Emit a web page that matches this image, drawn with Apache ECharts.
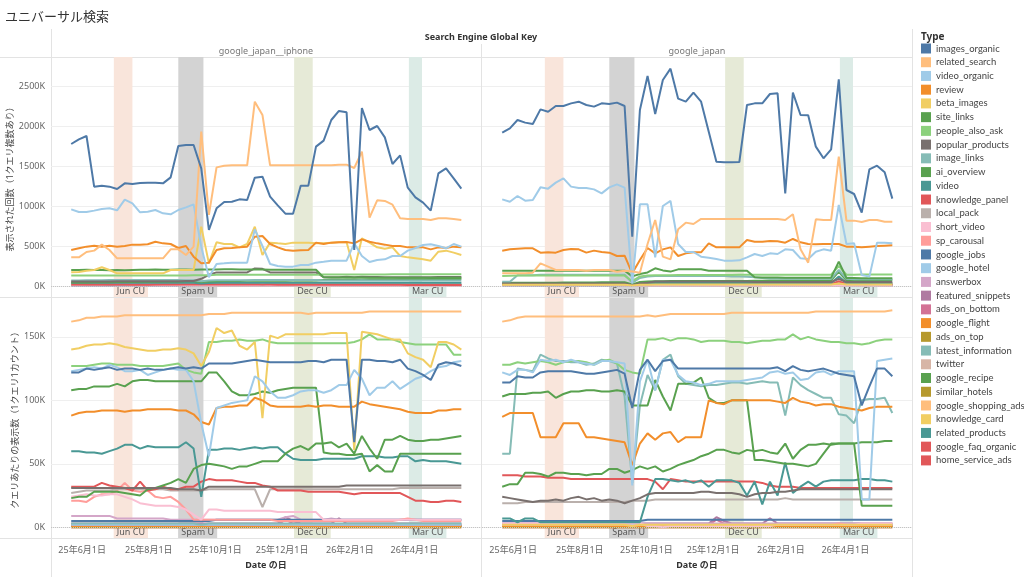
<!DOCTYPE html>
<html>
<head>
<meta charset="utf-8">
<title>ユニバーサル検索</title>
<script src="https://cdn.jsdelivr.net/npm/echarts@6/dist/echarts.min.js"></script>
<style>
html, body { margin: 0; padding: 0; background: #fff; }
#chart { width: 1024px; height: 577px; }
</style>
</head>
<body>
<div id="chart"></div>
<script>
// 週次の日付（データ点）
var dates = [
  '2025-05-22','2025-05-29','2025-06-05','2025-06-12','2025-06-19','2025-06-26','2025-07-03','2025-07-10','2025-07-17','2025-07-24',
  '2025-07-31','2025-08-07','2025-08-14','2025-08-21','2025-08-28','2025-09-04','2025-09-11','2025-09-18','2025-09-25','2025-10-02',
  '2025-10-09','2025-10-16','2025-10-23','2025-10-30','2025-11-06','2025-11-13','2025-11-20','2025-11-27','2025-12-04','2025-12-11',
  '2025-12-18','2025-12-25','2026-01-01','2026-01-08','2026-01-15','2026-01-22','2026-01-29','2026-02-05','2026-02-12','2026-02-19',
  '2026-02-26','2026-03-05','2026-03-12','2026-03-19','2026-03-26','2026-04-02','2026-04-09','2026-04-16','2026-04-23','2026-04-30',
  '2026-05-07','2026-05-14'
];

var types = ['images_organic','related_search','video_organic','review','beta_images','site_links','people_also_ask',
  'popular_products','image_links','ai_overview','video','knowledge_panel','local_pack','short_video','sp_carousal',
  'google_jobs','google_hotel','answerbox','featured_snippets','ads_on_bottom','google_flight','ads_on_top',
  'latest_information','twitter','google_recipe','similar_hotels','google_shopping_ads','knowledge_card',
  'related_products','google_faq_organic','home_service_ads'];
var typeColors = ['#4e79a7','#ffbe7d','#a0cbe8','#f28e2b','#f1ce63','#59a14f','#8cd17d',
  '#79706e','#86bcb6','#59a14f','#499894','#e15759','#bab0ac','#fabfd2','#ff9d9a',
  '#4e79a7','#a0cbe8','#d4a6c8','#b07aa1','#d37295','#f28e2b','#b6992d',
  '#86bcb6','#d7b5a6','#59a14f','#b6992d','#ffbe7d','#f1ce63',
  '#499894','#e15759','#e15759'];

// 軸ラベル
var tickDates = ['2025-06-01','2025-08-01','2025-10-01','2025-12-01','2026-02-01','2026-04-01'];
var tickLabels = ['25年6月1日','25年8月1日','25年10月1日','25年12月1日','26年2月1日','26年4月1日'];
var countTicks = [0, 500, 1000, 1500, 2000, 2500];
var perQueryTicks = [0, 50, 100, 150];

// アップデート期間
var bandNames = ['Jun CU','Spam U','Dec CU','Mar CU'];
var bandStart = ['2025-06-30','2025-08-28','2025-12-12','2026-03-27'];
var bandEnd = ['2025-07-17','2025-09-20','2025-12-29','2026-04-08'];
var bandColors = ['#f9e5db','#d3d3d3','#e6ead7','#dcebe6'];

// 表示された回数 (K) google_japan__iphone
var iphoneCount = {
  images_organic: [1775,1833,1875,1242,1254,1242,1212,1283,1275,1288, 1292,1292,1283,1358,1750,1763,1763,1471,700,971, 1050,1054,1083,1075,1354,1367,1117,1008,904,904, 1254,1254,1742,1817,2075,2188,2171,450,2225,1950, 2000,1858,1525,1633,1229,1108,1042,942,1408,1471, 1346,1217],
  related_search: [358,358,425,442,517,450,346,346,346,346, 346,346,346,458,458,388,492,1929,888,1483, 1504,1508,1508,1508,2304,2138,1508,1508,1508,1508, 1508,1508,1508,1508,1508,1517,1517,1475,1679,854, 1071,1063,1017,846,838,838,838,825,846,846, 838,825],
  video_organic: [958,925,925,942,963,971,946,1079,1033,921, 929,950,908,896,950,983,1021,492,108,275, 283,292,292,292,708,500,275,250,242,242, 263,263,292,304,317,317,317,533,375,300, 325,333,375,375,442,475,513,521,500,471, 525,492],
  review: [450,471,492,504,492,504,492,500,517,517, 521,554,533,525,475,500,367,283,292,450, 471,475,483,492,617,625,525,483,450,442, 446,450,542,525,542,546,550,533,583,554, 533,517,500,500,483,483,483,458,483,475, 492,483],
  beta_images: [171,175,190,200,235,200,158,158,158,158, 158,158,158,200,200,200,200,742,283,546, 525,525,483,525,742,388,542,533,525,542, 542,542,533,533,542,546,546,200,596,542, 483,467,483,375,358,346,333,317,429,442, 417,388],
  site_links: [200,200,202,200,200,198,200,198,200,202, 202,205,203,202,205,205,203,205,205,205, 208,208,205,205,205,205,203,203,203,203, 203,203,203,108,106,105,105,105,106,104, 104,104,104,103,103,103,104,104,104,103, 103,103],
  people_also_ask: [130,130,130,130,130,130,130,132,132,132, 132,132,132,132,132,132,135,135,135,140, 140,140,140,140,140,140,140,140,140,140, 140,140,140,145,145,145,145,145,145,145, 145,145,148,148,148,148,148,148,148,148, 148,148],
  popular_products: [55,55,55,55,55,55,58,58,58,58, 58,58,60,60,60,62,62,90,140,170, 170,170,170,170,220,215,170,170,170,170, 170,170,170,110,110,110,115,110,115,112, 112,110,110,110,108,108,110,110,112,112, 112,112],
  image_links: [70,70,72,72,72,75,75,75,75,75, 75,75,75,75,75,72,72,60,70,72, 72,72,72,72,75,75,75,75,75,75, 75,75,75,70,70,70,70,68,72,70, 70,70,70,68,68,68,70,70,70,70, 70,70],
  ai_overview: [45,45,45,48,48,48,50,50,50,52, 52,52,55,55,55,58,60,50,55,60, 62,62,62,65,65,65,65,65,65,68, 70,70,70,75,78,78,80,80,82,80, 80,82,82,84,84,85,85,86,86,88, 88,88],
  video: [40,40,40,40,40,40,42,42,42,42, 42,42,42,42,42,42,40,30,38,40, 40,40,40,40,42,42,42,42,42,42, 42,42,40,40,40,40,40,40,40,40, 40,40,40,40,40,40,40,40,40,40, 40,40],
  knowledge_panel: [18,18,18,18,19,18,18,18,17,19, 17,18,18,18,18,18,18,19,20,20, 20,20,19,19,19,18,18,17,17,17, 17,16,16,16,16,16,16,15,16,16, 16,16,16,16,14,12,12,12,12,12, 12,12],
  local_pack: [28,28,29,29,29,29,30,30,30,30, 30,30,30,29,29,29,29,29,30,30, 30,30,30,30,30,18,30,30,30,30, 30,30,30,30,30,30,30,30,30,30, 30,30,30,31,31,31,31,31,31,31, 31,31]
};

// 表示された回数 (K) google_japan
var desktopCount = {
  images_organic: [1917,1971,2075,2042,2025,2208,2179,2250,2250,2283, 2304,2263,2242,2283,2275,2292,2250,617,2200,2625, 2150,2575,2717,2342,2304,2417,2304,1929,1554,1546, 1546,1550,2263,2283,2283,2400,2408,1158,2417,2138, 2133,1742,1596,1708,2583,1200,1150,917,1458,1504, 1421,1092],
  video_organic: [1083,1054,1125,1067,1075,1233,1217,1292,1346,1242, 1225,1225,1208,1158,1233,1271,1229,33,1021,1021, 358,1000,1063,525,425,425,367,354,338,317, 317,321,358,400,375,408,400,458,450,346, 338,429,458,442,1013,525,533,138,117,542, 542,533],
  related_search: [158,158,158,158,167,283,242,200,200,200, 200,192,200,200,200,179,192,180,167,525, 825,367,333,708,792,775,838,838,838,838, 838,838,838,838,838,838,838,825,896,458, 292,833,825,825,1617,817,817,800,825,825, 804,804],
  review: [442,458,467,471,471,417,421,417,450,463, 458,417,442,425,417,375,379,158,325,475, 408,458,483,375,408,421,421,533,483,483, 483,483,575,554,554,563,558,542,588,546, 525,521,525,525,525,492,492,483,492,500, 504,508],
  site_links: [192,192,192,192,192,192,192,192,192,192, 192,192,192,192,192,192,192,120,150,170, 221,195,180,208,208,208,208,192,192,192, 192,192,192,108,106,105,105,104,104,104, 104,104,104,104,304,100,100,98,98,98, 98,98],
  people_also_ask: [125,128,130,130,130,130,132,132,132,132, 132,132,132,132,132,132,130,60,120,130, 135,135,135,138,138,138,138,138,138,138, 138,140,140,140,140,140,140,140,142,142, 142,142,142,142,250,142,142,145,145,145, 145,145],
  image_links: [54,54,135,135,135,140,140,140,140,140, 140,140,140,140,140,140,140,40,100,120, 125,125,125,125,125,125,125,125,125,125, 120,120,115,110,100,95,95,90,90,90, 90,90,90,90,200,90,85,85,85,85, 85,85],
  popular_products: [30,30,30,30,30,30,30,30,30,30, 30,30,30,30,30,30,30,10,30,40, 55,55,55,55,55,55,55,55,55,55, 55,55,55,50,50,50,50,50,50,50, 50,50,50,50,90,50,50,50,50,50, 50,50],
  ai_overview: [40,40,40,42,42,42,42,42,44,44, 44,44,44,46,46,46,46,20,50,55, 60,60,62,62,62,62,64,64,64,64, 64,64,64,66,66,68,68,68,70,70, 70,70,70,72,180,72,72,72,74,74, 74,74],
  video: [35,35,35,35,35,35,35,35,35,35, 35,35,35,35,35,35,35,15,30,35, 38,38,38,38,38,38,38,38,38,38, 38,38,38,36,36,36,36,36,36,36, 36,36,36,36,120,36,36,36,36,36, 36,36],
  knowledge_panel: [25,25,25,25,25,25,25,25,25,25, 25,25,25,25,25,25,25,12,25,25, 25,25,25,25,25,25,25,25,25,25, 25,25,25,24,24,24,24,24,24,24, 24,24,24,24,60,24,24,24,24,24, 24,24],
  local_pack: [20,20,20,20,20,20,20,20,20,20, 20,20,20,20,20,20,20,8,20,20, 22,22,22,22,22,22,22,22,22,22, 22,22,22,22,22,22,22,22,22,22, 22,22,22,22,40,22,22,22,22,22, 22,22],
  beta_images: [15,15,15,15,15,15,15,15,15,15, 15,15,15,15,15,15,15,5,15,15, 18,18,18,18,18,18,18,18,18,18, 18,18,18,18,18,18,18,18,18,18, 18,18,18,18,30,18,18,18,18,18, 18,18]
};

// 表示された回数 (K) 小さい系列
var smallCount = {
  short_video: [20,20,21,21,22,22,22,21,20,19, 18,18,17,17,17,14,10,6,9,9, 9,9,9,9,9,9,9,8,8,8, 8,8,8,5,5,5,5,5,5,5, 5,5,5,5,5,5,5,5,5,5, 5,5],
  sp_carousal: [15,15,15,16,17,20,18,18,17,16, 16,15,15,15,14,12,8,5,5,5, 5,5,5,5,5,5,5,5,5,5, 5,5,5,5,5,5,5,5,5,5, 5,5,5,5,8,5,5,5,5,5, 5,5],
  google_jobs: [12,12,12,12,12,12,12,12,12,12, 12,12,12,12,12,12,12,6,12,14, 14,14,14,14,14,14,14,14,14,14, 14,14,14,14,14,14,14,14,14,14, 14,14,14,14,20,14,14,14,14,14, 14,14],
  google_hotel: [6,6,6,6,6,6,6,6,6,6, 6,6,6,6,6,6,6,3,6,6, 6,6,6,6,6,6,6,6,6,6, 6,6,6,6,6,6,6,6,6,6, 6,6,6,6,9,6,6,6,6,6, 6,6],
  answerbox: [10,10,10,10,10,10,9,9,9,9, 9,9,9,8,8,8,8,4,7,7, 7,7,7,7,7,7,7,7,7,7, 7,7,7,7,7,7,7,7,7,7, 7,7,7,7,9,7,7,7,7,7, 7,7],
  featured_snippets: [5,5,5,5,5,5,5,5,5,5, 5,5,5,5,5,5,5,3,5,5, 5,5,5,5,5,5,5,5,9,9, 5,5,5,5,5,7,5,5,5,5, 5,5,5,5,7,5,5,5,5,5, 5,5],
  ads_on_bottom: [3,3,3,3,3,3,3,3,3,3, 3,3,3,3,3,3,3,2,3,3, 3,3,3,3,3,3,3,3,4,4, 3,3,3,3,3,3,3,3,3,3, 3,3,3,3,4,3,3,3,3,3, 3,3],
  google_flight: [2,2,2,2,2,2,2,2,2,2, 2,2,2,2,2,2,2,1,2,2, 2,2,2,2,2,2,2,2,2,2, 2,2,2,2,2,2,2,2,2,2, 2,2,2,2,3,2,2,2,2,2, 2,2],
  ads_on_top: [2,2,2,2,2,2,2,2,2,2, 2,2,2,2,2,2,2,1,2,2, 2,2,2,2,2,2,2,2,2,2, 2,2,2,2,2,2,2,2,2,2, 2,2,2,2,2,2,2,2,2,2, 2,2],
  latest_information: [4,4,4,4,4,4,4,4,4,4, 4,4,4,4,4,4,4,2,4,4, 4,4,4,4,4,4,4,4,4,4, 4,4,4,4,4,4,4,4,4,4, 4,4,4,4,6,4,4,4,4,4, 4,4],
  twitter: [1,1,1,1,1,1,1,1,1,1, 1,1,1,1,1,1,1,1,1,1, 1,1,1,1,1,1,1,1,1,1, 1,1,1,1,1,1,1,1,1,1, 1,1,1,1,1,1,1,1,1,1, 1,1],
  google_recipe: [3,3,3,3,3,3,3,3,3,3, 3,3,3,3,3,3,3,2,3,3, 3,3,3,3,3,3,3,3,3,3, 3,3,3,3,3,3,3,3,3,3, 3,3,3,3,4,3,3,3,3,3, 3,3],
  similar_hotels: [1,1,1,1,1,1,1,1,1,1, 1,1,1,1,1,1,1,1,1,1, 1,1,1,1,1,1,1,1,1,1, 1,1,1,1,1,1,1,1,1,1, 1,1,1,1,1,1,1,1,1,1, 1,1],
  google_shopping_ads: [2,2,2,2,2,2,2,2,2,2, 2,2,2,2,2,2,2,1,2,2, 2,2,2,2,2,2,2,2,2,2, 2,2,2,2,2,2,2,2,2,2, 2,2,2,2,2,2,2,2,2,2, 2,2],
  knowledge_card: [3,3,3,3,3,3,3,3,3,3, 3,3,3,3,3,3,3,2,3,3, 3,3,3,3,3,3,3,3,3,3, 3,3,3,3,3,3,3,3,3,3, 3,3,3,3,3,3,3,3,3,3, 3,3],
  related_products: [5,5,5,5,5,5,5,5,5,5, 5,5,5,5,5,5,5,3,5,5, 5,5,5,5,5,5,5,5,5,5, 5,5,5,5,5,5,5,5,5,5, 5,5,5,5,7,5,5,5,5,5, 5,5],
  google_faq_organic: [2,2,2,2,2,2,2,2,2,2, 2,2,2,2,2,2,2,1,2,2, 2,2,2,2,2,2,2,2,2,2, 2,2,2,2,2,2,2,2,2,2, 2,2,2,2,2,2,2,2,2,2, 2,2],
  home_service_ads: [8,8,8,8,8,8,8,8,8,8, 8,8,8,8,8,8,8,5,8,8, 8,8,8,8,8,8,8,8,8,8, 8,8,8,8,8,8,8,8,8,8, 8,8,8,8,10,8,8,8,8,8, 8,8]
};

// クエリあたりの表示数 (K) google_japan__iphone
var iphonePerQuery = {
  related_search: [162,163,165,165,166,166,166,167,167,167, 167,167,167,167,167,167,167,167,168,168, 168,169,169,169,169,169,169,169,169,169, 169,168,169,169,169,169,169,169,169,170, 170,170,170,170,170,170,170,170,170,170, 170,170],
  beta_images: [140,141,143,144,144,145,144,142,141,140, 139,139,140,140,141,140,137,127,138,157, 153,155,143,140,146,86,151,149,152,152, 152,152,152,152,153,153,153,61,154,153, 152,150,148,148,137,134,132,126,146,146, 144,140],
  people_also_ask: [127,127,127,128,129,129,128,128,128,127, 127,127,127,128,129,124,122,121,146,146, 147,147,148,147,147,148,146,145,145,145, 145,145,145,145,145,145,145,146,148,152, 148,148,148,146,145,144,144,144,144,144, 136,136],
  images_organic: [122,122,125,124,125,126,124,125,125,124, 125,124,124,125,126,125,126,125,129,129, 129,129,130,131,132,131,130,130,130,130, 130,131,131,130,132,132,132,67,132,132, 131,131,130,132,125,123,120,116,128,130, 129,127],
  video_organic: [123,124,125,126,125,128,126,123,123,124, 120,122,124,125,124,124,115,82,56,94, 96,98,99,100,119,115,107,102,102,104, 107,108,108,106,108,112,112,124,117,104, 110,110,115,109,113,117,119,123,126,127, 130,131],
  site_links: [108,109,109,111,111,111,113,111,115,116, 116,115,115,115,115,115,115,115,122,122, 115,107,104,104,105,107,106,108,109,110, 110,110,110,59,58,58,57,57,58,44, 49,44,44,58,58,58,58,58,58,58, 58,58],
  ai_overview: [23,24,24,28,28,28,28,27,26,25, 30,31,33,35,38,35,46,49,50,49, 48,46,48,48,50,52,52,52,58,62, 64,61,66,66,67,63,66,58,72,62, 54,69,69,72,69,68,68,69,69,70, 71,72],
  review: [88,90,91,91,92,92,92,91,92,92, 93,93,93,93,92,92,89,83,81,94, 95,95,96,96,102,100,96,95,95,95, 95,96,95,96,96,95,95,95,99,97, 96,95,94,93,91,90,90,90,92,92, 93,93],
  video: [60,60,59,59,58,60,62,65,65,62, 64,63,63,63,63,67,62,24,61,61, 62,62,61,62,63,62,63,63,58,54, 53,53,53,54,54,54,54,54,56,56, 56,55,55,56,56,52,53,52,52,52, 51,50],
  knowledge_panel: [32,32,32,32,35,33,32,31,29,36, 29,30,32,30,30,32,32,36,38,37, 37,37,36,35,35,33,32,29,29,29, 29,28,28,28,28,28,27,26,27,27, 27,27,27,27,24,21,21,20,20,21, 21,20],
  popular_products: [31,31,31,31,31,31,31,31,31,31, 31,31,31,31,30,30,30,29,32,32, 32,32,32,32,32,32,32,32,32,32, 32,32,32,32,32,32,33,33,33,33, 33,33,33,33,33,33,33,33,33,33, 33,33],
  local_pack: [27,28,29,29,29,29,30,30,30,30, 30,30,30,29,29,29,29,29,30,30, 30,30,30,30,30,16,30,30,30,30, 30,30,30,30,30,30,30,30,30,30, 30,30,30,31,31,31,31,31,31,31, 31,31],
  sp_carousal: [21,21,20,24,26,26,29,35,29,28, 29,24,23,24,20,14,6,6,6,6, 6,6,6,6,6,6,6,5,5,5, 5,5,5,5,5,5,5,5,5,5, 5,5,5,6,7,6,5,5,5,5, 5,5],
  short_video: [24,25,26,25,25,26,26,24,22,19, 18,17,17,17,16,14,10,6,14,14, 13,13,13,13,13,13,13,12,12,12, 12,12,12,6,6,6,6,6,6,6, 6,6,6,6,6,6,6,6,6,6, 6,6],
  answerbox: [9,9,9,9,9,9,7,7,7,7, 7,7,7,6,6,6,6,6,6,6, 6,6,6,6,6,6,6,6,8,9, 6,6,6,6,7,6,6,6,6,6, 6,6,6,6,6,6,6,6,6,6, 6,6]
};

// クエリあたりの表示数 (K) google_japan
var desktopPerQuery = {
  related_search: [162,163,165,166,166,166,166,166,166,166, 166,166,166,166,166,166,166,166,166,167, 166,167,168,168,168,168,168,168,168,168, 169,169,169,169,169,169,169,169,169,169, 169,170,170,170,170,170,170,170,170,170, 170,171],
  people_also_ask: [128,128,130,129,130,131,130,128,130,131, 131,130,128,131,132,129,124,122,121,148, 148,149,147,149,149,148,146,147,147,147, 146,146,145,146,147,147,148,148,152,148, 150,148,147,146,146,145,145,144,145,147, 148,148],
  images_organic: [114,114,119,118,118,122,123,123,123,123, 122,121,121,122,123,124,121,94,124,132, 123,131,132,125,125,125,125,125,125,125, 125,125,125,125,125,125,126,123,127,124, 123,124,125,123,121,120,119,96,111,125, 125,119],
  video_organic: [122,120,124,124,122,132,131,132,130,132, 130,129,128,131,131,130,129,33,115,132, 108,132,132,120,115,114,112,113,115,115, 115,115,116,117,118,122,123,121,122,116, 117,122,123,120,123,123,123,22,22,131, 132,133],
  image_links: [58,58,125,124,123,136,133,131,131,130, 130,128,129,132,131,129,103,35,96,120, 108,132,136,119,113,112,111,112,112,113, 114,114,113,114,115,114,114,88,118,112, 108,105,102,102,89,88,82,100,101,101, 102,90],
  site_links: [103,105,105,105,106,106,107,102,105,107, 107,108,108,107,107,108,107,96,96,96, 116,103,92,113,113,114,118,102,98,98, 100,100,100,53,53,52,51,50,50,49, 48,50,58,66,66,66,66,17,17,17, 17,17],
  ai_overview: [32,34,34,43,43,42,40,43,43,42, 42,41,42,42,46,46,43,45,48,46, 48,44,46,49,51,53,56,58,61,61, 59,58,61,60,61,59,58,66,54,61, 65,65,66,65,66,66,66,67,67,67, 68,68],
  review: [87,90,90,90,90,71,71,71,82,82, 82,71,71,70,69,68,67,49,66,74, 69,74,75,67,71,71,71,100,98,97, 100,100,100,100,100,100,99,98,102,99, 98,96,97,97,95,94,93,92,94,95, 95,95],
  video: [7,7,4,7,7,4,4,4,4,4, 4,4,4,4,4,4,4,4,4,24, 38,38,37,36,37,35,37,32,37,37, 37,35,25,36,18,36,25,51,27,32, 36,32,36,37,37,37,37,38,38,37, 37,36],
  knowledge_panel: [41,41,41,40,40,40,39,39,39,38, 38,38,38,38,38,38,38,38,38,38, 36,30,38,37,36,36,36,36,36,36, 36,36,36,36,35,33,32,32,32,31, 31,31,31,31,31,31,31,31,31,31, 31,31],
  popular_products: [24,23,22,21,20,21,21,22,21,23, 24,22,23,21,22,21,19,21,23,26, 27,27,27,27,27,27,28,28,27,27, 27,26,24,26,27,27,28,28,29,30, 30,30,30,30,30,30,30,30,30,30, 30,30],
  local_pack: [19,19,19,20,20,20,20,20,20,20, 20,20,20,20,20,20,20,21,21,21, 22,22,22,22,22,22,22,22,22,22, 22,22,22,22,22,22,22,23,22,22, 22,22,22,22,22,22,22,22,22,22, 22,22]
};

// クエリあたりの表示数 (K) 小さい系列
var smallPerQuery = {
  image_links: [3,3,3,3,3,3,3,3,3,3, 3,3,3,3,3,3,3,2,3,3, 3,3,3,3,3,3,3,3,3,3, 3,3,3,3,3,3,3,3,3,3, 3,3,3,3,3,3,3,3,3,3, 3,3],
  beta_images: [2,2,2,2,2,2,2,2,2,2, 2,2,2,2,2,2,2,1,2,2, 2,2,2,2,2,2,2,2,2,2, 2,2,2,2,2,2,2,2,2,2, 2,2,2,2,2,2,2,2,2,2, 2,2],
  answerbox: [3,3,3,3,3,3,3,3,3,3, 3,3,3,3,3,3,3,2,3,3, 3,3,3,3,3,3,3,3,3,3, 3,3,3,3,3,3,3,3,3,3, 3,3,3,3,3,3,3,3,3,3, 3,3],
  short_video: [3,3,3,3,3,3,3,3,3,3, 3,3,3,3,3,3,3,3,3,1, 1,0,1,1,1,1,1,1,1,1, 1,1,1,1,1,1,2,2,2,2, 2,2,2,2,2,2,2,3,3,3, 3,3],
  sp_carousal: [2,2,2,2,2,2,2,2,2,2, 2,2,2,2,2,2,2,1,2,2, 2,2,2,2,2,2,2,2,2,2, 2,2,2,2,2,2,2,2,2,2, 2,2,2,2,3,2,2,2,2,2, 2,2],
  google_jobs: [5,5,5,5,5,5,5,5,5,5, 5,5,5,5,5,5,5,5,5,6, 6,6,6,6,6,6,6,6,6,6, 6,6,6,6,6,6,6,6,6,6, 6,6,6,6,6,6,6,6,6,6, 6,6],
  google_hotel: [2,2,2,2,2,2,2,2,2,2, 2,2,2,2,2,2,2,2,2,2, 2,2,2,2,2,2,2,2,2,2, 2,2,2,2,2,2,2,2,2,2, 2,2,2,2,2,2,2,2,2,2, 2,2],
  featured_snippets: [3,3,3,3,3,3,3,3,3,3, 3,3,3,3,3,3,3,3,3,3, 3,3,3,3,3,3,3,3,8,5, 3,3,3,3,3,7,3,3,3,3, 3,3,3,3,3,3,3,3,3,3, 3,3],
  ads_on_bottom: [2,2,2,2,2,2,2,2,2,2, 2,2,2,2,2,2,2,2,2,2, 2,2,2,2,2,2,2,2,6,3, 2,2,2,2,2,2,2,2,2,2, 2,2,2,2,2,2,2,2,2,2, 2,2],
  google_flight: [1,1,1,1,1,1,1,1,1,1, 1,1,1,1,1,1,1,1,1,1, 1,1,1,1,1,1,1,1,1,1, 1,1,1,1,1,1,1,1,1,1, 1,1,1,1,1,1,1,1,1,1, 1,1],
  ads_on_top: [1,1,1,1,1,1,1,1,1,1, 1,1,1,1,1,1,1,1,1,1, 1,1,1,1,1,1,1,1,1,1, 1,1,1,1,1,1,1,1,1,1, 1,1,1,1,1,1,1,1,1,1, 1,1],
  latest_information: [1,1,1,1,1,1,1,1,1,1, 1,1,1,1,1,1,1,1,1,1, 1,1,1,1,1,1,1,1,1,1, 1,1,1,1,1,1,1,1,1,1, 1,1,1,1,1,1,1,1,1,1, 1,1],
  twitter: [1,1,1,1,1,1,1,1,1,1, 1,1,1,1,1,1,1,1,1,1, 1,1,1,1,1,1,1,1,1,1, 1,1,1,1,1,1,1,1,1,1, 1,1,1,1,1,1,1,1,1,1, 1,1],
  google_recipe: [1,1,1,1,1,1,1,1,1,1, 1,1,1,1,1,1,1,1,1,1, 1,1,1,1,1,1,1,1,1,1, 1,1,1,1,1,1,1,1,1,1, 1,1,1,1,1,1,1,1,1,1, 1,1],
  similar_hotels: [0,0,0,0,0,0,0,0,0,0, 0,0,0,0,0,0,0,0,0,0, 0,0,0,0,0,0,0,0,0,0, 0,0,0,0,0,0,0,0,0,0, 0,0,0,0,0,0,0,0,0,0, 0,0],
  google_shopping_ads: [1,1,1,1,1,1,1,1,1,1, 1,1,1,1,1,1,1,1,1,1, 1,1,1,1,1,1,1,1,1,1, 1,1,1,1,1,1,1,1,1,1, 1,1,1,1,1,1,1,1,1,1, 1,1],
  knowledge_card: [1,1,1,1,1,1,1,1,1,1, 1,1,1,1,1,1,1,1,1,1, 1,1,1,1,1,1,1,1,1,1, 1,1,1,1,1,1,1,1,1,1, 1,1,1,1,1,1,1,1,1,1, 1,1],
  related_products: [2,2,2,2,2,2,2,2,2,2, 2,2,2,2,2,2,2,2,2,2, 2,2,2,2,2,2,2,2,2,2, 2,2,2,2,2,2,2,2,2,2, 2,2,2,2,2,2,2,2,2,2, 2,2],
  google_faq_organic: [1,1,1,1,1,1,1,1,1,1, 1,1,1,1,1,1,1,1,1,1, 1,1,1,1,1,1,1,1,1,1, 1,1,1,1,1,1,1,1,1,1, 1,1,1,1,1,1,1,1,1,1, 1,1],
  home_service_ads: [0,0,0,0,0,0,0,0,0,0, 0,0,0,0,0,0,0,0,0,0, 0,0,0,0,0,0,0,0,0,0, 0,0,0,0,0,0,0,0,0,0, 0,0,0,0,0,0,0,0,0,0, 0,0]
};

var FONT = '"Noto Sans", "Noto Sans CJK JP", sans-serif';
var LEGEND_FONT = 'Lato, "Noto Sans", sans-serif';
var LINE = '#e3e3e3';

var panels = [
  {data: iphoneCount, small: smallCount, left: 51, top: 57},
  {data: desktopCount, small: smallCount, left: 482, top: 57},
  {data: iphonePerQuery, small: smallPerQuery, left: 51, top: 298},
  {data: desktopPerQuery, small: smallPerQuery, left: 482, top: 298}
];

// 日付 → タイムスタンプ（x軸は数値軸で扱う）
function localTime(s) {
  var p = s.split('-');
  return new Date(+p[0], +p[1] - 1, +p[2]).getTime();
}
var dateTimes = dates.map(localTime);
var tickTimes = tickDates.map(localTime);
var axisStart = new Date(2025, 4, 3, 12).getTime();
var axisEnd = new Date(2026, 5, 1).getTime();

function dateLabel(v) {
  for (var i = 0; i < tickTimes.length; i++) {
    if (Math.abs(tickTimes[i] - v) < 43200000) return tickLabels[i];
  }
  return '';
}

function makeXAxis(p, g) {
  var bottom = g >= 2;
  return {
    type: 'value', gridIndex: g, min: axisStart, max: axisEnd,
    axisLine: {show: false},
    axisTick: {show: false, customValues: tickTimes},
    splitLine: {show: false},
    axisLabel: {
      show: bottom, customValues: tickTimes, formatter: dateLabel,
      color: '#666', fontSize: 9, fontFamily: FONT, margin: 8, hideOverlap: false
    },
    name: bottom ? 'Date の日' : '', nameLocation: 'middle', nameGap: 23,
    nameTextStyle: {fontWeight: 'bold', fontSize: 9, color: '#333', fontFamily: FONT}
  };
}

function makeYAxis(p, g) {
  var isCount = g < 2;
  var ticks = isCount ? countTicks : perQueryTicks;
  var name = '';
  if (g === 0) name = '表示された回数（1クエリ複数あり）';
  if (g === 2) name = 'クエリあたりの表示数（1クエリ1カウント）';
  return {
    type: 'value', gridIndex: g,
    min: isCount ? -137.5 : -8.4,
    max: isCount ? 2862.5 : 180.6,
    axisLine: {show: false},
    axisTick: {show: false, customValues: ticks},
    axisLabel: {
      show: g % 2 === 0, customValues: ticks,
      formatter: function(v) { return v + 'K'; },
      color: '#666', fontSize: 9, fontFamily: FONT, margin: 6
    },
    splitLine: {show: true, lineStyle: {color: '#efefef', width: 1}},
    name: name, nameLocation: 'middle', nameGap: 27,
    nameTextStyle: {fontSize: 9, color: '#444', fontFamily: FONT}
  };
}

function buildSeries() {
  var list = [];
  panels.forEach(function(p, g) {
    // 期間の帯とゼロ線
    list.push({
      type: 'line', name: 'bands', xAxisIndex: g, yAxisIndex: g,
      data: dateTimes.map(function(t) { return [t, null]; }),
      symbol: 'none', silent: true, lineStyle: {width: 0},
      markArea: {
        silent: true,
        label: {
          show: true, position: 'insideBottomLeft', distance: 0,
          color: '#555', fontSize: 9, fontFamily: FONT, padding: [2, 3, 1, 3]
        },
        data: bandNames.map(function(n, i) {
          return [
            {name: n, xAxis: localTime(bandStart[i]), itemStyle: {color: bandColors[i], opacity: 1},
             label: {backgroundColor: bandColors[i]}},
            {xAxis: localTime(bandEnd[i])}
          ];
        })
      },
      markLine: {
        silent: true, symbol: ['none', 'none'], label: {show: false},
        lineStyle: {color: '#c4c4c4', type: 'dotted', width: 1},
        data: [{yAxis: 0}]
      }
    });
    for (var k = types.length - 1; k >= 0; k--) {
      var t = types[k];
      var vals = p.data[t] || p.small[t];
      list.push({
        type: 'line', name: t, xAxisIndex: g, yAxisIndex: g,
        data: dateTimes.map(function(x, i) { return [x, vals[i]]; }),
        symbol: 'none', showSymbol: false, silent: true,
        itemStyle: {color: typeColors[k]},
        lineStyle: {color: typeColors[k], width: 2},
        emphasis: {disabled: true}
      });
    }
  });
  return list;
}

function hLine(y, x1, x2) {
  return {type: 'line', shape: {x1: x1, y1: y, x2: x2, y2: y}, style: {stroke: LINE, lineWidth: 1}, silent: true};
}
function vLine(x, y1, y2) {
  return {type: 'line', shape: {x1: x, y1: y1, x2: x, y2: y2}, style: {stroke: LINE, lineWidth: 1}, silent: true};
}
function label(text, x, y, opt) {
  return {
    type: 'text', x: x, y: y, silent: true,
    style: {
      text: text, x: 0, y: 0, fill: opt.color, align: opt.align || 'left', verticalAlign: 'middle',
      font: (opt.bold ? 'bold ' : '') + opt.size + 'px ' + FONT
    }
  };
}

var option = {
  animation: false,
  backgroundColor: '#fff',
  grid: panels.map(function(p) {
    return {left: p.left, top: p.top, width: 430, height: 240, containLabel: false, outerBoundsMode: 'none'};
  }),
  xAxis: panels.map(makeXAxis),
  yAxis: panels.map(makeYAxis),
  legend: {
    data: types, orient: 'vertical', left: 921, top: 43.5, padding: 0,
    icon: 'rect', itemWidth: 10, itemHeight: 10, itemGap: 3.73,
    selectedMode: false,
    textStyle: {fontSize: 9.5, color: '#444', fontFamily: LEGEND_FONT, lineHeight: 10}
  },
  graphic: [
    hLine(57.5, 0, 912), hLine(297.5, 0, 912), hLine(538.5, 0, 912),
    vLine(51.5, 29, 577), vLine(481.5, 44, 577), vLine(912.5, 29, 577),
    label('ユニバーサル検索', 5, 17, {size: 13, color: '#333'}),
    label('Search Engine Global Key', 481, 37, {size: 9, color: '#333', bold: true, align: 'center'}),
    label('google_japan__iphone', 266, 51, {size: 9, color: '#777', align: 'center'}),
    label('google_japan', 697, 51, {size: 9, color: '#777', align: 'center'}),
    label('Type', 921, 37, {size: 10, color: '#333', bold: true})
  ],
  series: buildSeries()
};

var myChart = echarts.init(document.getElementById('chart'));
myChart.setOption(option);
</script>
</body>
</html>
